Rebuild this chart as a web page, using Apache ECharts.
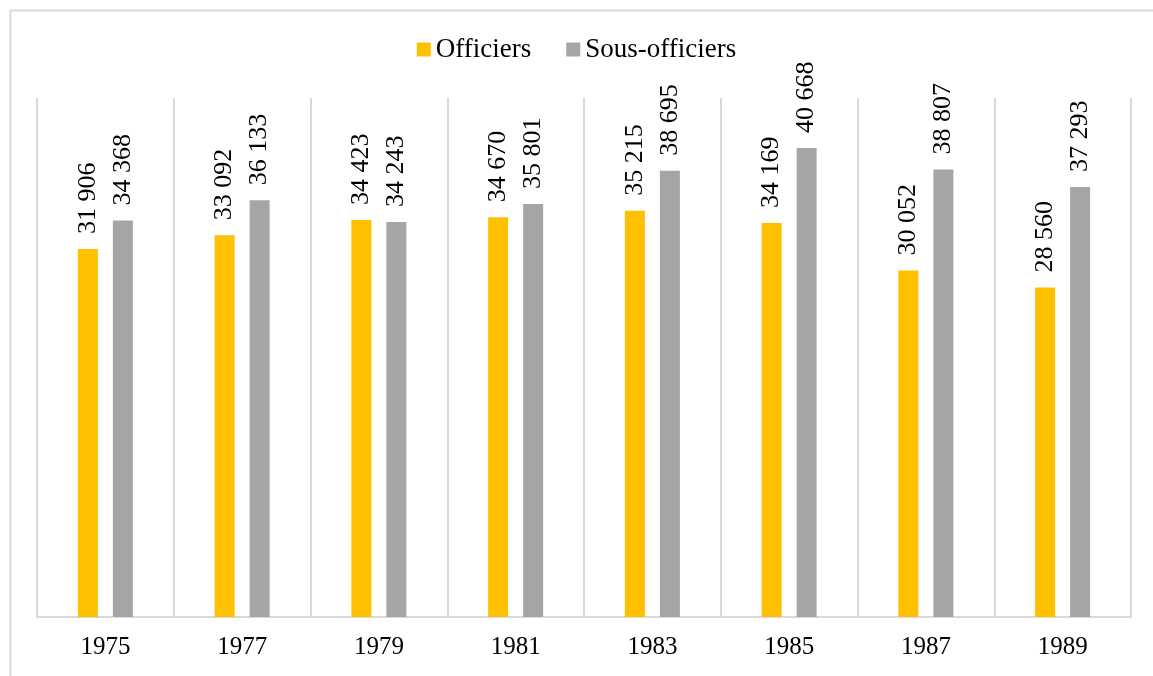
<!DOCTYPE html>
<html>
<head>
<meta charset="utf-8">
<script src="https://cdn.jsdelivr.net/npm/echarts@6/dist/echarts.min.js"></script>
<style>
  html, body { margin: 0; padding: 0; background: #fff; }
  #main { width: 1153px; height: 676px; }
</style>
</head>
<body>
<div id="main"></div>
<script>
// données du graphique
const annees = ['1975', '1977', '1979', '1981', '1983', '1985', '1987', '1989'];
const officiers = [31906, 33092, 34423, 34670, 35215, 34169, 30052, 28560];
const sousOfficiers = [34368, 36133, 34243, 35801, 38695, 40668, 38807, 37293];

const police = '"Liberation Serif", "Times New Roman", serif';

// format "31 906"
function fmt(v) {
  return String(v).replace(/\B(?=(\d{3})+(?!\d))/g, ' ');
}

const chart = echarts.init(document.getElementById('main'));

const labelCfg = {
  show: true,
  position: 'top',
  rotate: 90,
  align: 'left',
  verticalAlign: 'middle',
  distance: 15,
  fontFamily: police,
  fontSize: 26,
  color: '#000',
  formatter: p => fmt(p.value)
};

chart.setOption({
  animation: false,
  graphic: [{
    type: 'rect',
    left: 8,
    top: 8,
    shape: { width: 1200, height: 720 },
    style: { fill: 'none', stroke: '#D9D9D9', lineWidth: 2 },
    silent: true
  }],
  legend: {
    top: 31,
    left: 'center',
    itemWidth: 14,
    itemHeight: 14,
    itemGap: 35,
    icon: 'rect',
    textStyle: { fontFamily: police, fontSize: 27, color: '#000' },
    data: ['Officiers', 'Sous-officiers']
  },
  grid: { left: 37, right: 22, top: 98, bottom: 59 },
  xAxis: {
    type: 'category',
    data: annees,
    axisLine: { lineStyle: { color: '#D9D9D9', width: 2 } },
    axisTick: { show: false },
    splitLine: { show: true, lineStyle: { color: '#D9D9D9', width: 2 } },
    axisLabel: { fontFamily: police, fontSize: 25, color: '#000', margin: 18 }
  },
  yAxis: {
    type: 'value',
    min: 0,
    max: 45000,
    show: false,
    splitLine: { show: false }
  },
  series: [
    {
      name: 'Officiers',
      type: 'bar',
      data: officiers,
      barWidth: 20,
      barGap: '75%',
      itemStyle: { color: '#FFC000' },
      label: labelCfg
    },
    {
      name: 'Sous-officiers',
      type: 'bar',
      data: sousOfficiers,
      barWidth: 20,
      itemStyle: { color: '#A5A5A5' },
      label: labelCfg
    }
  ]
});
</script>
</body>
</html>
